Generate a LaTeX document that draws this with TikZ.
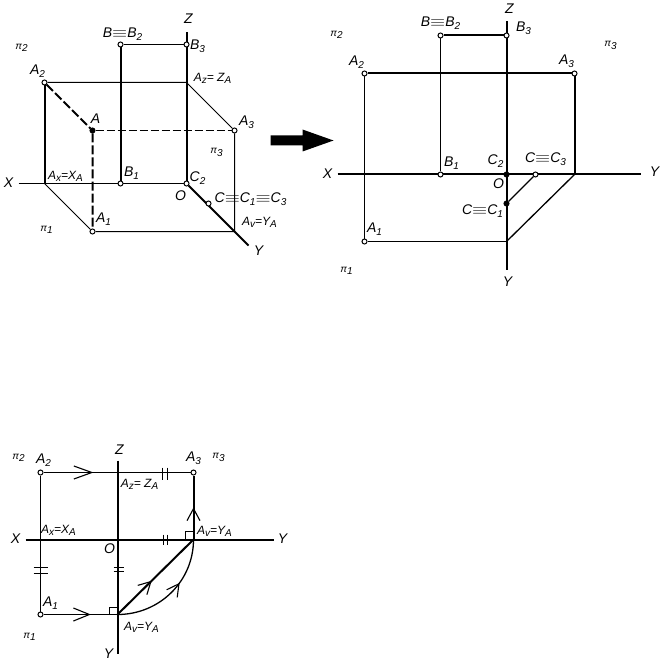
\documentclass[tikz,border=0pt]{standalone}
\usepackage{fontspec}
\setmainfont{Liberation Sans}
\usetikzlibrary{arrows.meta, backgrounds, decorations.markings}

\newcommand{\lowr}[1]{\raisebox{-0.22em}{\fontsize{10}{10}\selectfont #1}}
\newcommand{\eqv}{\scalebox{1.35}[1]{$\equiv$}}

\begin{document}
\begin{tikzpicture}[
    x=1pt, y=-1pt,
    dot/.style={circle, draw=black, fill=white, line width=1pt, minimum size=5pt, inner sep=0pt},
    dotb/.style={dot, fill=black},
    lbl/.style={inner sep=0pt, font=\fontsize{14}{14}\itshape},
    lbls/.style={inner sep=0pt, font=\fontsize{12}{12}\itshape},
    plane/.style={inner sep=0pt, font=\fontsize{10}{10}\itshape},
    heavy/.style={line width=2pt},
    light/.style={line width=1pt},
    midbarb/.style 2 args={postaction={decorate}, decoration={markings,
        mark=at position #1 with {\arrow[line width=1.1pt]{Straight Barb[length=#2pt, width=13pt]}}}}
]
    \useasboundingbox (-0.5,-0.5) rectangle (659.5,662.5);

    % Oblique view
    \coordinate (zt) at (186,32);
    \coordinate (xl) at (18,183);
    \coordinate (yr) at (248,245);
    \coordinate (ax) at (44,183);
    \coordinate (az) at (186,82);
    \coordinate (av) at (234,231);
    \node[dot] (o) at (186,183) {};
    \node[dot] (b) at (120,44) {};
    \node[dot] (bthree) at (186,44) {};
    \node[dot] (atwo) at (44,82) {};
    \node[dotb] (a) at (92,130) {};
    \node[dot] (athree) at (234,130) {};
    \node[dot] (bone) at (120,183) {};
    \node[dot] (aone) at (92,231) {};
    \node[dot] (c) at (208,203) {};

    \node[lbl] (lz) at (188,18) {Z};
    \node[lbl] (lb) at (122,34) {B\eqv B\lowr{2}};
    \node[lbl] (lbthree) at (197,46) {B\lowr{3}};
    \node[plane] (lptwo) at (21,47) {π\lowr{2}};
    \node[lbl] (latwo) at (37,71) {A\lowr{2}};
    \node[lbls] (laz) at (212,78) {A\lowr{z}= Z\lowr{A}};
    \node[lbl] (la) at (95,118) {A};
    \node[lbl] (lathree) at (246,122) {A\lowr{3}};
    \node[plane] (lpthree) at (216,152) {π\lowr{3}};
    \node[lbls] (lax) at (65,176) {A\lowr{x}=X\lowr{A}};
    \node[lbl] (lbone) at (131,173) {B\lowr{1}};
    \node[lbl] (lctwo) at (197,178) {C\lowr{2}};
    \node[lbl] (lo) at (180,195) {O};
    \node[lbl] (lc) at (250,199) {C\eqv C\lowr{1}\eqv C\lowr{3}};
    \node[lbl] (laone) at (103,219) {A\lowr{1}};
    \node[lbls] (lav) at (259,222) {A\lowr{v}=Y\lowr{A}};
    \node[lbl] (lx) at (8,182) {X};
    \node[lbl] (ly) at (258,250) {Y};
    \node[plane] (lpone) at (46,229) {π\lowr{1}};

    \begin{scope}[on background layer]
        \draw[heavy] (zt) -- (o);
        \draw[light] (xl) -- (o);
        \draw[heavy] (o) -- (yr);
        \draw[heavy] (atwo) -- (ax);
        \draw[heavy] (b) -- (bone);
        \draw[light] (b) -- (bthree);
        \draw[light] (atwo) -- (az) -- (athree);
        \draw[heavy, dashed, dash pattern=on 9pt off 3pt] (atwo) -- (a) -- (aone);
        \draw[light, dashed, dash pattern=on 8pt off 3pt] (a) -- (athree);
        \draw[light] (athree) -- (av) -- (aone) -- (ax);
    \end{scope}

    % Arrow between the views
    \fill (270,135) -- (302,135) -- (302,129) -- (333,140) -- (302,151) -- (302,145) -- (270,145) -- cycle;

    % Unfolded view
    \coordinate (ztt) at (506,21);
    \coordinate (ybot) at (506,269);
    \coordinate (xxl) at (337,174);
    \coordinate (yyr) at (640,174);
    \coordinate (avv) at (506,241);
    \coordinate (avr) at (574,174);
    \node[dot] (bb) at (440,35) {};
    \node[dot] (bbthree) at (506,35) {};
    \node[dot] (aatwo) at (364,73) {};
    \node[dot] (aathree) at (574,73) {};
    \node[dot] (bbone) at (440,174) {};
    \node[dotb] (oo) at (506,174) {};
    \node[dot] (ccthree) at (535,174) {};
    \node[dotb] (ccone) at (506,203) {};
    \node[dot] (aaone) at (364,241) {};

    \node[lbl] (llz) at (509,8) {Z};
    \node[lbl] (llb) at (440,23) {B\eqv B\lowr{2}};
    \node[lbl] (llbthree) at (523,28) {B\lowr{3}};
    \node[plane] (llptwo) at (336,34) {π\lowr{2}};
    \node[plane] (llpthree) at (610,45) {π\lowr{3}};
    \node[lbl] (llatwo) at (356,62) {A\lowr{2}};
    \node[lbl] (llathree) at (566,61) {A\lowr{3}};
    \node[lbl] (llbone) at (451,163) {B\lowr{1}};
    \node[lbl] (llctwo) at (495,161) {C\lowr{2}};
    \node[lbl] (llcthree) at (545,159) {C\eqv C\lowr{3}};
    \node[lbl] (llx) at (327,173) {X};
    \node[lbl] (lly) at (654,171) {Y};
    \node[lbl] (llo) at (498,183) {O};
    \node[lbl] (llcone) at (482,211) {C\eqv C\lowr{1}};
    \node[lbl] (llaone) at (374,229) {A\lowr{1}};
    \node[plane] (llpone) at (346,270) {π\lowr{1}};
    \node[lbl] (llyb) at (507,281) {Y};

    \begin{scope}[on background layer]
        \draw[heavy] (ztt) -- (ybot);
        \draw[heavy] (xxl) -- (yyr);
        \draw[heavy] (aatwo) -- (aathree);
        \draw[heavy] (aathree) -- (avr);
        \draw[light] (aatwo) -- (aaone) -- (avv);
        \draw[line width=1.3pt] (avv) -- (avr);
        \draw[line width=1.3pt] (ccthree) -- (ccone);
        \draw[heavy] (bb) -- (bbthree);
        \draw[light] (bb) -- (bbone);
    \end{scope}

    % Construction of the third projection
    \coordinate (ztop) at (117,460);
    \coordinate (ybt) at (117,653);
    \coordinate (xll) at (25,539);
    \coordinate (yrr) at (273,539);
    \coordinate (azz) at (117,472);
    \coordinate (vb) at (117,614);
    \coordinate (vr) at (193,539);
    \coordinate (axx) at (40,539);
    \node[dot] (ptwo) at (40,472) {};
    \node[dot] (pthree) at (193,472) {};
    \node[dot] (pone) at (40,614) {};

    \node[lbl] (tz) at (119,449) {Z};
    \node[plane] (tptwo) at (18,457) {π\lowr{2}};
    \node[lbl] (tatwo) at (43,460) {A\lowr{2}};
    \node[lbl] (tathree) at (193,458) {A\lowr{3}};
    \node[plane] (tpthree) at (218,457) {π\lowr{3}};
    \node[lbls] (taz) at (139,484) {A\lowr{z}= Z\lowr{A}};
    \node[lbls] (tax) at (58,530) {A\lowr{x}=X\lowr{A}};
    \node[lbls] (tavr) at (214,531) {A\lowr{v}=Y\lowr{A}};
    \node[lbl] (tx) at (15,538) {X};
    \node[lbl] (ty) at (282,538) {Y};
    \node[lbl] (to) at (109,548) {O};
    \node[lbl] (taone) at (50,603) {A\lowr{1}};
    \node[lbls] (tavb) at (141,627) {A\lowr{v}=Y\lowr{A}};
    \node[plane] (tpone) at (29,636) {π\lowr{1}};
    \node[lbl] (tyb) at (108,653) {Y};

    \begin{scope}[on background layer]
        \draw[heavy] (ztop) -- (ybt);
        \draw[heavy] (xll) -- (yrr);
        \draw[light, midbarb={0.34}{18}] (ptwo) -- (pthree);
        \draw[light] (ptwo) -- (pone);
        \draw[light, midbarb={0.64}{16}] (pone) -- (vb);
        \draw[heavy, midbarb={0.5}{12}] (vr) -- (pthree);
        \draw[heavy, midbarb={0.45}{12}] (vb) -- (vr);
        \draw[line width=1.3pt, midbarb={0.61}{12}] (vb) to[out=0, in=-90] (vr);
    \end{scope}

    % Ticks and right angles
    \draw[light] (162,467) -- (162,479) (167,467) -- (167,479);
    \draw[light] (163,534) -- (163,544) (167,534) -- (167,544);
    \draw[light] (113,567) -- (123,567) (113,571) -- (123,571);
    \draw[light] (33,567) -- (47,567) (33,573) -- (47,573);
    \draw[light] (185,539) |- (193,531);
    \draw[light] (109,614) |- (117,607);
\end{tikzpicture}
\end{document}
